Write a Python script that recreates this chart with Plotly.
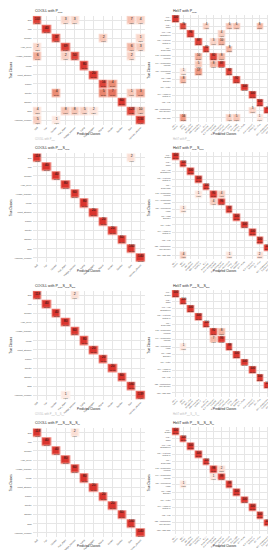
import plotly.graph_objects as go

# ---------------- data ----------------
cooll_classes = ["Drill", "Fan", "Grinder", "Hair_dryer", "Hedge_trimmer", "Lamp",
                 "Paint_stripper", "Planer", "Router", "Sander", "Saw", "Vacuum_cleaner"]

helit_classes = ["001 –<br>Toaster", "002 –<br>Radio", "007 – Hair<br>Straightener",
                 "008 – Heat Gun<br>(setting 1)", "011 –<br>Desk Lamp",
                 "013 – Refrigerator<br>(cooling)", "014 – Refrigerator<br>(defrost)",
                 "015 – Fluorescent<br>Lamp", "016 – Light<br>Bulb Box", "017 – Kettle",
                 "019 – Hairdryer<br>(setting 1)", "021 – Fan",
                 "022 – Multifunction<br>Tool (Dremel)", "023 – LED lamp"]

cooll_pmax = [
    [103, 0, 0, 3, 3, 0, 0, 0, 0, 0, 7, 4],
    [0, 40, 0, 0, 0, 0, 0, 0, 0, 0, 0, 0],
    [0, 0, 37, 0, 0, 0, 0, 2, 0, 0, 0, 1],
    [2, 0, 0, 69, 0, 0, 0, 0, 0, 0, 6, 3],
    [6, 0, 0, 2, 50, 0, 0, 0, 0, 0, 2, 0],
    [0, 0, 0, 0, 0, 80, 0, 0, 0, 0, 0, 0],
    [0, 0, 0, 0, 0, 0, 20, 0, 0, 0, 0, 0],
    [0, 0, 0, 0, 0, 0, 0, 16, 4, 0, 0, 0],
    [0, 0, 4, 0, 0, 0, 0, 5, 7, 0, 1, 3],
    [0, 0, 0, 0, 0, 0, 0, 0, 0, 60, 0, 0],
    [4, 0, 0, 8, 8, 5, 2, 0, 0, 0, 123, 10],
    [5, 0, 1, 0, 0, 0, 0, 0, 0, 0, 0, 134],
]
cooll_pmax_s1 = [
    [118, 0, 0, 0, 0, 0, 0, 0, 0, 0, 2, 0],
    [0, 40, 0, 0, 0, 0, 0, 0, 0, 0, 0, 0],
    [0, 0, 40, 0, 0, 0, 0, 0, 0, 0, 0, 0],
    [0, 0, 0, 80, 0, 0, 0, 0, 0, 0, 0, 0],
    [0, 0, 0, 0, 60, 0, 0, 0, 0, 0, 0, 0],
    [0, 0, 0, 0, 0, 80, 0, 0, 0, 0, 0, 0],
    [0, 0, 0, 0, 0, 0, 20, 0, 0, 0, 0, 0],
    [0, 0, 0, 0, 0, 0, 0, 20, 0, 0, 0, 0],
    [0, 0, 0, 0, 0, 0, 0, 0, 20, 0, 0, 0],
    [0, 0, 0, 0, 0, 0, 0, 0, 0, 60, 0, 0],
    [0, 0, 0, 0, 0, 0, 0, 0, 0, 0, 160, 0],
    [0, 0, 0, 0, 0, 0, 0, 0, 0, 0, 0, 140],
]
cooll_pmax_s2 = [
    [118, 0, 0, 0, 2, 0, 0, 0, 0, 0, 0, 0],
    [0, 40, 0, 0, 0, 0, 0, 0, 0, 0, 0, 0],
    [0, 0, 40, 0, 0, 0, 0, 0, 0, 0, 0, 0],
    [0, 0, 0, 80, 0, 0, 0, 0, 0, 0, 0, 0],
    [0, 0, 0, 0, 60, 0, 0, 0, 0, 0, 0, 0],
    [0, 0, 0, 0, 0, 80, 0, 0, 0, 0, 0, 0],
    [0, 0, 0, 0, 0, 0, 20, 0, 0, 0, 0, 0],
    [0, 0, 0, 0, 0, 0, 0, 20, 0, 0, 0, 0],
    [0, 0, 0, 0, 0, 0, 0, 0, 20, 0, 0, 0],
    [0, 0, 0, 0, 0, 0, 0, 0, 0, 60, 0, 0],
    [0, 0, 0, 0, 0, 0, 0, 0, 0, 0, 160, 0],
    [0, 0, 0, 1, 0, 0, 0, 0, 0, 0, 0, 139],
]
cooll_pmax_s3 = [
    [118, 0, 0, 0, 2, 0, 0, 0, 0, 0, 0, 0],
    [0, 40, 0, 0, 0, 0, 0, 0, 0, 0, 0, 0],
    [0, 0, 40, 0, 0, 0, 0, 0, 0, 0, 0, 0],
    [0, 0, 0, 80, 0, 0, 0, 0, 0, 0, 0, 0],
    [0, 0, 0, 0, 60, 0, 0, 0, 0, 0, 0, 0],
    [0, 0, 0, 0, 0, 80, 0, 0, 0, 0, 0, 0],
    [0, 0, 0, 0, 0, 0, 20, 0, 0, 0, 0, 0],
    [0, 0, 0, 0, 0, 0, 0, 20, 0, 0, 0, 0],
    [0, 0, 0, 0, 0, 0, 0, 0, 20, 0, 0, 0],
    [0, 0, 0, 0, 0, 0, 0, 0, 0, 60, 0, 0],
    [0, 0, 0, 0, 0, 0, 0, 0, 0, 0, 160, 0],
    [0, 0, 0, 0, 0, 0, 0, 0, 0, 0, 0, 140],
]

helit_pmax = [
    [100, 0, 0, 0, 0, 0, 0, 0, 0, 0, 0, 0, 0, 0],
    [0, 76, 0, 0, 4, 0, 0, 6, 6, 0, 0, 8, 0, 0],
    [0, 0, 96, 0, 0, 0, 4, 0, 0, 0, 0, 0, 0, 0],
    [0, 0, 0, 87, 0, 3, 10, 0, 0, 0, 0, 0, 0, 0],
    [0, 0, 0, 0, 92, 0, 0, 8, 0, 0, 0, 0, 0, 0],
    [0, 0, 0, 10, 0, 82, 8, 0, 0, 0, 0, 0, 0, 0],
    [0, 0, 0, 5, 0, 8, 87, 0, 0, 0, 0, 0, 0, 0],
    [0, 1, 0, 17, 0, 0, 0, 82, 0, 0, 0, 0, 0, 0],
    [0, 8, 0, 0, 0, 0, 0, 0, 92, 0, 0, 0, 0, 0],
    [0, 0, 0, 0, 0, 0, 0, 0, 0, 100, 0, 0, 0, 0],
    [0, 0, 0, 0, 0, 0, 0, 0, 0, 0, 100, 0, 0, 0],
    [0, 0, 0, 0, 0, 0, 0, 0, 0, 0, 0, 100, 0, 0],
    [0, 0, 0, 0, 0, 0, 0, 0, 0, 0, 3, 0, 97, 0],
    [0, 16, 0, 0, 0, 0, 0, 4, 5, 0, 0, 1, 0, 74],
]
helit_pmax_s1 = [
    [100, 0, 0, 0, 0, 0, 0, 0, 0, 0, 0, 0, 0, 0],
    [0, 100, 0, 0, 0, 0, 0, 0, 0, 0, 0, 0, 0, 0],
    [0, 0, 100, 0, 0, 0, 0, 0, 0, 0, 0, 0, 0, 0],
    [0, 0, 0, 100, 0, 0, 0, 0, 0, 0, 0, 0, 0, 0],
    [0, 0, 0, 0, 100, 0, 0, 0, 0, 0, 0, 0, 0, 0],
    [0, 0, 0, 1, 0, 95, 4, 0, 0, 0, 0, 0, 0, 0],
    [0, 0, 0, 0, 0, 4, 96, 0, 0, 0, 0, 0, 0, 0],
    [0, 1, 0, 0, 0, 0, 0, 97, 0, 0, 0, 0, 0, 2],
    [0, 0, 0, 0, 0, 0, 0, 0, 100, 0, 0, 0, 0, 0],
    [0, 0, 0, 0, 0, 0, 0, 0, 0, 100, 0, 0, 0, 0],
    [0, 0, 0, 0, 0, 0, 0, 0, 0, 0, 100, 0, 0, 0],
    [0, 0, 0, 0, 0, 0, 0, 0, 0, 0, 0, 100, 0, 0],
    [0, 0, 0, 0, 0, 0, 0, 0, 0, 0, 0, 0, 100, 0],
    [0, 4, 0, 0, 0, 0, 0, 1, 0, 0, 0, 2, 0, 93],
]
helit_pmax_s2 = [
    [100, 0, 0, 0, 0, 0, 0, 0, 0, 0, 0, 0, 0, 0],
    [0, 100, 0, 0, 0, 0, 0, 0, 0, 0, 0, 0, 0, 0],
    [0, 0, 100, 0, 0, 0, 0, 0, 0, 0, 0, 0, 0, 0],
    [0, 0, 0, 100, 0, 0, 0, 0, 0, 0, 0, 0, 0, 0],
    [0, 0, 0, 0, 100, 0, 0, 0, 0, 0, 0, 0, 0, 0],
    [0, 0, 0, 0, 0, 92, 8, 0, 0, 0, 0, 0, 0, 0],
    [0, 0, 0, 0, 0, 7, 93, 0, 0, 0, 0, 0, 0, 0],
    [0, 1, 0, 0, 0, 0, 0, 99, 0, 0, 0, 0, 0, 0],
    [0, 0, 0, 0, 0, 0, 0, 0, 100, 0, 0, 0, 0, 0],
    [0, 0, 0, 0, 0, 0, 0, 0, 0, 100, 0, 0, 0, 0],
    [0, 0, 0, 0, 0, 0, 0, 0, 0, 0, 100, 0, 0, 0],
    [0, 0, 0, 0, 0, 0, 0, 0, 0, 0, 0, 100, 0, 0],
    [0, 0, 0, 0, 0, 0, 0, 0, 0, 0, 0, 0, 100, 0],
    [0, 0, 0, 0, 0, 0, 0, 0, 0, 0, 0, 0, 0, 100],
]
helit_pmax_s3 = [
    [100, 0, 0, 0, 0, 0, 0, 0, 0, 0, 0, 0, 0, 0],
    [0, 100, 0, 0, 0, 0, 0, 0, 0, 0, 0, 0, 0, 0],
    [0, 0, 100, 0, 0, 0, 0, 0, 0, 0, 0, 0, 0, 0],
    [0, 0, 0, 100, 0, 0, 0, 0, 0, 0, 0, 0, 0, 0],
    [0, 0, 0, 0, 100, 0, 0, 0, 0, 0, 0, 0, 0, 0],
    [0, 0, 0, 0, 0, 98, 2, 0, 0, 0, 0, 0, 0, 0],
    [0, 0, 0, 0, 0, 1, 99, 0, 0, 0, 0, 0, 0, 0],
    [0, 1, 0, 0, 0, 0, 0, 99, 0, 0, 0, 0, 0, 0],
    [0, 0, 0, 0, 0, 0, 0, 0, 100, 0, 0, 0, 0, 0],
    [0, 0, 0, 0, 0, 0, 0, 0, 0, 100, 0, 0, 0, 0],
    [0, 0, 0, 0, 0, 0, 0, 0, 0, 0, 100, 0, 0, 0],
    [0, 0, 0, 0, 0, 0, 0, 0, 0, 0, 0, 100, 0, 0],
    [0, 0, 0, 0, 0, 0, 0, 0, 0, 0, 0, 0, 100, 0],
    [0, 0, 0, 0, 0, 0, 0, 0, 0, 0, 0, 0, 0, 100],
]

cooll_titles = ["COOLL with P<sub>max</sub>",
                "COOLL with P<sub>max</sub>S<sub>rms</sub>",
                "COOLL with P<sub>max</sub>S<sub>rms</sub>S<sub>thd</sub>",
                "COOLL with P<sub>max</sub>S<sub>rms</sub>S<sub>thd</sub>S<sub>pf</sub>"]
helit_titles = ["HeliT with P<sub>max</sub>",
                "HeliT with P<sub>max</sub>S<sub>rms</sub>",
                "HeliT with P<sub>max</sub>S<sub>rms</sub>S<sub>thd</sub>",
                "HeliT with P<sub>max</sub>S<sub>rms</sub>S<sub>thd</sub>S<sub>pf</sub>"]

cooll_mats = [cooll_pmax, cooll_pmax_s1, cooll_pmax_s2, cooll_pmax_s3]
helit_mats = [helit_pmax, helit_pmax_s1, helit_pmax_s2, helit_pmax_s3]

# ---------------- layout helpers ----------------
W, H = 276, 550
FONT = "Liberation Sans"
outer_scale = [[0.0, "#fef6f3"], [0.01, "#fdeee8"], [0.03, "#fbe2d9"], [0.08, "#f8cdbf"],
               [0.2, "#f3b09f"], [0.5, "#ee8d7d"], [1.0, "#ea6f64"]]
inner_scale = [[0.0, "#fdf1ec"], [0.01, "#fbe4dc"], [0.03, "#f8d2c5"], [0.08, "#f2b3a0"],
               [0.2, "#ea8c74"], [0.5, "#e0594a"], [1.0, "#d9342e"]]

def px_x(v):
    return v / W

def px_y(v):
    return 1 - v / H

fig = go.Figure()
annotations = []
offsets = [0, 137.5, 275, 412.5]

panels = []
for i in range(4):
    panels.append(dict(mat=cooll_mats[i], labels=cooll_classes, title=cooll_titles[i],
                       xdom=(24.6, 137.4), ydom=(7.75 + offsets[i], 116.85 + offsets[i]),
                       off=offsets[i], left=0, tickfont=2.3, cellfont=3.4))
    panels.append(dict(mat=helit_mats[i], labels=helit_classes, title=helit_titles[i],
                       xdom=(163.6, 271.2), ydom=(6.9 + offsets[i], 113.8 + offsets[i]),
                       off=offsets[i], left=138, tickfont=1.9, cellfont=2.9))

for k, p in enumerate(panels):
    m = p["mat"]
    n = len(m)
    z, txt = [], []
    for row in m:
        s = sum(row)
        zr, tr = [], []
        for v in row:
            if v == 0:
                zr.append(None)
                tr.append("")
            else:
                pct = 100.0 * v / s
                zr.append(pct)
                tr.append(f"{v}<br><span style='font-size:1.5px'>{pct:.2f}%</span>")
        z.append(zr)
        txt.append(tr)
    ax = "" if k == 0 else str(k + 1)
    cell_px = (p["xdom"][1] - p["xdom"][0]) / n
    fig.add_trace(go.Heatmap(
        z=z, x=list(range(n)), y=list(range(n)),
        colorscale=outer_scale, zmin=0, zmax=100, showscale=False, xgap=0.5, ygap=0.5,
        hoverongaps=False, xaxis="x" + ax, yaxis="y" + ax))
    fig.add_trace(go.Heatmap(
        z=z, x=list(range(n)), y=list(range(n)), text=txt, texttemplate="%{text}",
        textfont=dict(size=p["cellfont"], color="#111111", family=FONT),
        colorscale=inner_scale, zmin=0, zmax=100, showscale=False,
        xgap=cell_px * 0.3, ygap=cell_px * 0.3,
        hoverongaps=False, xaxis="x" + ax, yaxis="y" + ax))
    common = dict(showgrid=True, gridcolor="#e6e6e6", gridwidth=0.5, zeroline=False,
                  showline=False, ticks="", tickfont=dict(size=p["tickfont"], color="#4d4d4d", family=FONT),
                  tickmode="array", tickvals=list(range(n)), ticktext=p["labels"])
    fig.update_layout(**{
        "xaxis" + ax: dict(domain=[px_x(p["xdom"][0]), px_x(p["xdom"][1])], range=[-0.5, n - 0.5],
                           tickangle=-45, anchor="y" + ax, **common),
        "yaxis" + ax: dict(domain=[px_y(p["ydom"][1]), px_y(p["ydom"][0])], range=[n - 0.5, -0.5],
                           anchor="x" + ax, **common),
    })
    L, off = p["left"], p["off"]
    annotations.append(dict(text=p["title"], x=px_x(L + 24.5), y=px_y(off + 3.3), xref="paper", yref="paper",
                            xanchor="left", yanchor="middle", showarrow=False,
                            font=dict(size=3.6, color="#222222", family=FONT)))
    annotations.append(dict(text="Predicted Classes", x=px_x((p["xdom"][0] + p["xdom"][1]) / 2),
                            y=px_y(off + 125.7), xref="paper", yref="paper", xanchor="center",
                            yanchor="middle", showarrow=False, font=dict(size=2.9, color="#222222", family=FONT)))
    annotations.append(dict(text="True Classes", x=px_x(L + 2.8), y=px_y(off + 62), xref="paper",
                            yref="paper", xanchor="center", yanchor="middle", textangle=-90, showarrow=False,
                            font=dict(size=2.9, color="#222222", family=FONT)))
    if k < 2 or k in (4, 5):
        annotations.append(dict(text=p["title"], x=px_x(L + 24.5), y=px_y(off + 130.5), xref="paper",
                                yref="paper", xanchor="left", yanchor="middle", showarrow=False,
                                font=dict(size=2.6, color="#b8b8b8", family=FONT)))

fig.update_layout(width=W, height=H, margin=dict(l=0, r=0, t=0, b=0), paper_bgcolor="white",
                  plot_bgcolor="white", annotations=annotations, showlegend=False)

fig.write_html("out.html")
